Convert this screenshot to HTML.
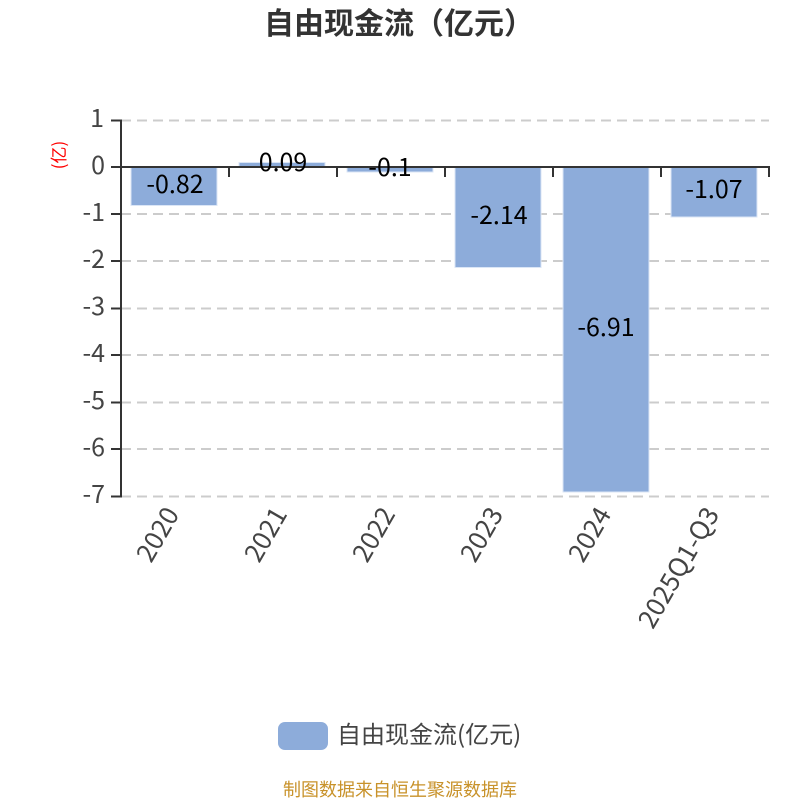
<!DOCTYPE html>
<html><head><meta charset="utf-8"><style>
html,body{margin:0;padding:0;background:#fff}
svg{display:block}
text{font-family:"Noto Sans CJK SC","Liberation Sans",sans-serif}
</style></head><body>
<svg width="800" height="800" viewBox="0 0 800 800" xmlns="http://www.w3.org/2000/svg">
<rect width="800" height="800" fill="#fff"/>
<text x="399" y="34" font-size="30" font-weight="bold" fill="#333" text-anchor="middle">自由现金流（亿元）</text>
<g stroke="#ccc" stroke-width="2" stroke-dasharray="10 6" fill="none">
<path d="M121 120.5H769M121 214H769M121 261H769M121 308.500H769M121 355H769M121 402.500H769M121 449H769M121 496.500H769"/>
</g>
<g fill="#8dacda" stroke="#dbe6f6" stroke-width="1">
<rect x="131" y="167" width="86" height="38.500"/>
<rect x="239" y="162.500" width="86" height="4.500"/>
<rect x="347" y="167" width="86" height="5"/>
<rect x="455" y="167" width="86" height="100.500"/>
<rect x="563" y="167" width="86" height="325"/>
<rect x="671" y="167" width="86" height="50"/>
</g>
<g stroke="#333" stroke-width="2" fill="none">
<path d="M121 119.500V497.500"/>
<path d="M111 120.500H121M111 167H121M111 214H121M111 261H121M111 308.500H121M111 355H121M111 402.500H121M111 449H121M111 496.500H121"/>
<path d="M120 167H770"/>
<path d="M229 167V177M337 167V177M445 167V177M553 167V177M661 167V177M769 167V177"/>
</g>
<g font-size="25" fill="#444" text-anchor="end">
<text x="104" y="127">1</text>
<text x="105" y="174">0</text>
<text x="105" y="221">-1</text>
<text x="105" y="268">-2</text>
<text x="105" y="315">-3</text>
<text x="105" y="362">-4</text>
<text x="105" y="409">-5</text>
<text x="105" y="456">-6</text>
<text x="105" y="503">-7</text>
</g>
<text transform="translate(65,155) rotate(-90)" font-size="17" fill="#f00" text-anchor="middle">(亿)</text>
<g font-size="25" fill="#000" text-anchor="middle">
<text x="175" y="193">-0.82</text>
<text x="283" y="171">0.09</text>
<text x="390" y="176">-0.1</text>
<text x="499" y="224">-2.14</text>
<text x="606" y="336">-6.91</text>
<text x="714" y="198">-1.07</text>
</g>
<g font-size="26" fill="#444" text-anchor="end">
<text transform="translate(180,514) rotate(-60)">2020</text>
<text transform="translate(288,514) rotate(-60)">2021</text>
<text transform="translate(396,514) rotate(-60)">2022</text>
<text transform="translate(504,514) rotate(-60)">2023</text>
<text transform="translate(612,514) rotate(-60)">2024</text>
<text transform="translate(720,514) rotate(-60)">2025Q1-Q3</text>
</g>
<rect x="278" y="722" width="50" height="28" rx="7" fill="#8dacda"/>
<text x="337" y="743" font-size="24" fill="#444">自由现金流(亿元)</text>
<text x="400" y="796" font-size="18" fill="#c8922a" text-anchor="middle">制图数据来自恒生聚源数据库</text>
</svg>
</body></html>
